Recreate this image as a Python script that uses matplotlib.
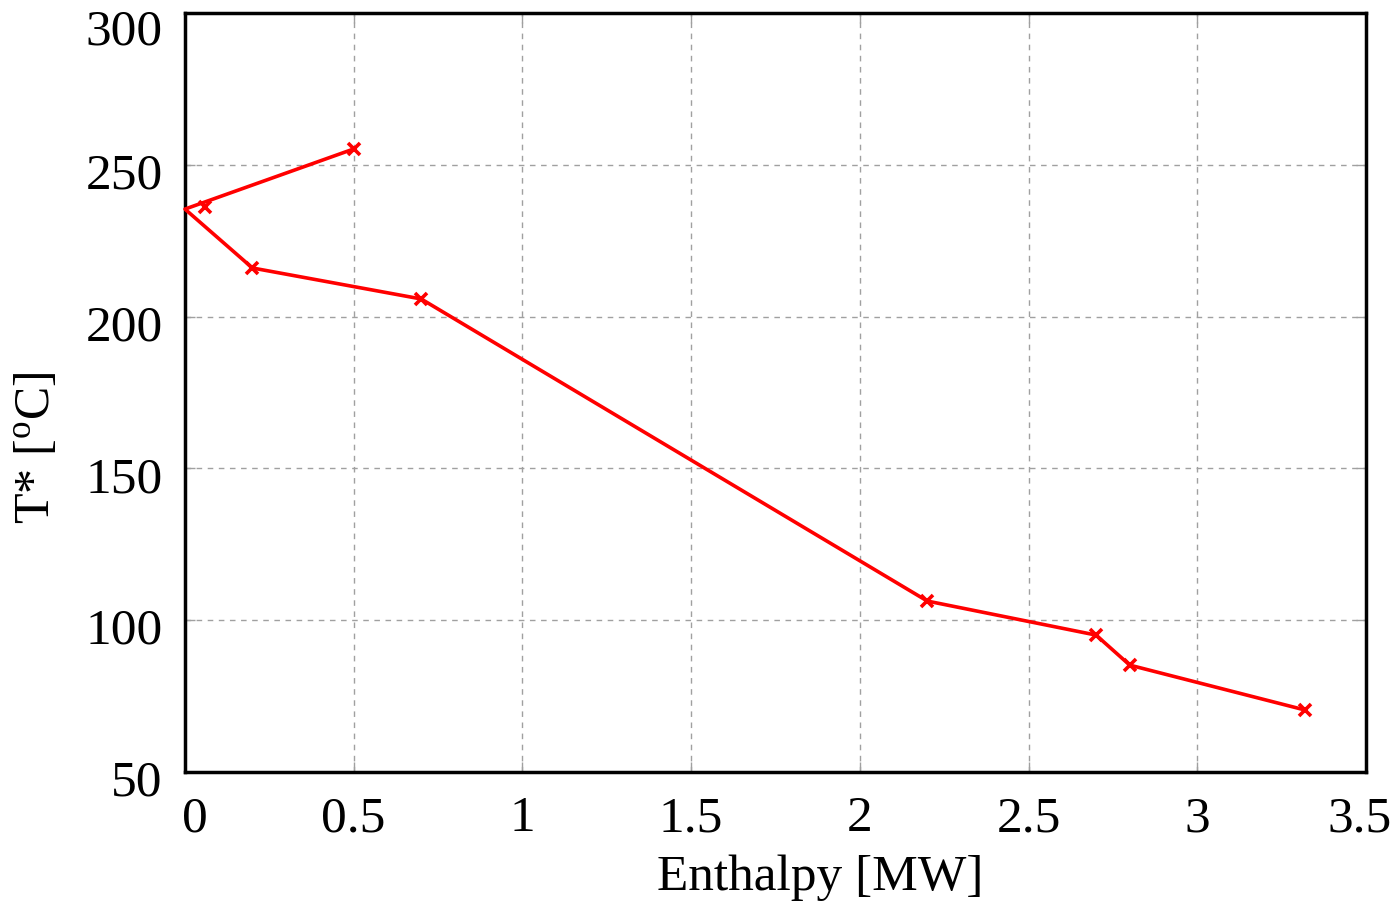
import matplotlib.pyplot as plt
import matplotlib.transforms as mtransforms

plt.rcParams['font.family'] = ['Liberation Serif', 'DejaVu Serif']
plt.rcParams['mathtext.fontset'] = 'custom'
plt.rcParams['mathtext.rm'] = 'Liberation Serif'

# composite curve (line vertices)
line_h = [0.5, 0.0, 0.2, 0.7, 2.2, 2.7, 2.8, 3.32]
line_t = [255.2, 235.4, 216.0, 205.8, 106.3, 95.1, 85.2, 70.4]
# marked points
mark_h = [0.5, 0.06, 0.2, 0.7, 2.2, 2.7, 2.8, 3.32]
mark_t = [255.2, 236.1, 216.0, 205.8, 106.3, 95.1, 85.2, 70.4]

xticks = [0, 0.5, 1, 1.5, 2, 2.5, 3, 3.5]
xticklabels = ['0', '0.5', '1', '1.5', '2', '2.5', '3', '3.5']
yticks = [50, 100, 150, 200, 250, 300]

fig = plt.figure(figsize=(13.97, 9.06), dpi=100)
ax = fig.add_axes([0.1324, 0.1479, 0.8454, 0.8378])

ax.plot(line_h, line_t, color='red', lw=2.6, clip_on=False, zorder=3)
ax.plot(mark_h, mark_t, ls='none', marker='x', color='red', ms=9, mew=2.6, zorder=4)

ax.set_xlim(0, 3.5)
ax.set_ylim(50, 300)
ax.set_xticks(xticks)
ax.set_xticklabels(xticklabels)
ax.set_yticks(yticks)
ax.grid(True, color='#a0a0a0', ls=(0, (4, 4)), lw=1)
ax.tick_params(direction='in', length=7, width=1, color='#a0a0a0',
               top=True, right=True, labelsize=37)
ax.tick_params(axis='x', pad=17)
ax.tick_params(axis='y', pad=16)
for s in ax.spines.values():
    s.set_linewidth(2.5)

ax.set_xlabel('Enthalpy [MW]', fontsize=37)
ax.xaxis.set_label_coords(0.538, -0.109)
ax.set_ylabel('T* [$^{\\rm o}$C]', fontsize=36)
ax.yaxis.set_label_coords(-0.104, 0.427)

# nudge tick labels like the original renderer
def px(dx, dy):
    return mtransforms.ScaledTranslation(dx / 100, dy / 100, fig.dpi_scale_trans)

for lab in ax.get_yticklabels():
    dy = -14 if lab.get_text() == '300' else -6
    lab.set_transform(lab.get_transform() + px(0, dy))
xl = ax.get_xticklabels()
xl[0].set_transform(xl[0].get_transform() + px(10, 0))
xl[-1].set_transform(xl[-1].get_transform() + px(-6, 0))

fig.savefig('out.png', dpi=100)
